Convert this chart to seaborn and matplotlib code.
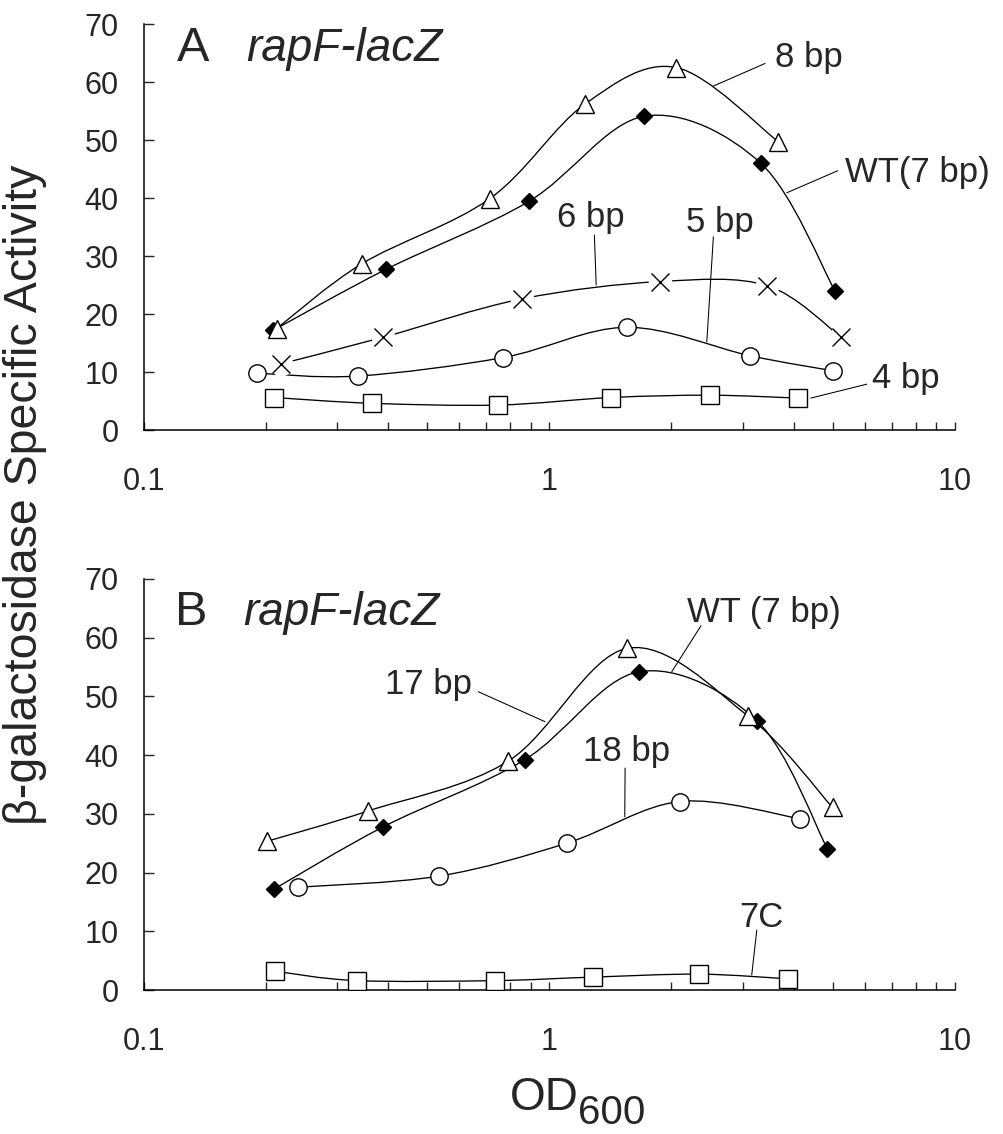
"""
rapF-lacZ beta-galactosidase activity vs OD600 (panels A and B)
"""
import matplotlib
matplotlib.use('Agg')
import matplotlib.pyplot as plt
import seaborn as sns
import numpy as np
import pandas as pd
from matplotlib.path import Path
from matplotlib.patches import PathPatch
from matplotlib.ticker import LogLocator, NullFormatter, FixedLocator, FixedFormatter

sns.set_style('ticks')
plt.rcParams['font.family'] = ['Liberation Sans', 'DejaVu Sans']

# ---- panel A data ----
a_8bp_od = [0.213, 0.346, 0.714, 1.225, 2.054, 3.67]
a_8bp_act = [17.5, 28.7, 39.9, 56.2, 62.5, 49.7]
a_wt_od = [0.209, 0.396, 0.890, 1.716, 3.32, 5.06]
a_wt_act = [17.2, 27.7, 39.4, 54.1, 46.0, 24.0]
a_6bp_od = [0.218, 0.390, 0.855, 1.875, 3.44, 5.24]
a_6bp_act = [11.4, 16.0, 22.6, 25.6, 24.9, 16.0]
a_5bp_od = [0.190, 0.337, 0.771, 1.553, 3.126, 5.01]
a_5bp_act = [9.8, 9.3, 12.5, 17.7, 12.8, 10.2]
a_4bp_od = [0.210, 0.366, 0.747, 1.418, 2.49, 4.10]
a_4bp_act = [5.6, 4.6, 4.3, 5.6, 6.0, 5.5]

# ---- panel B data ----
b_17bp_od = [0.201, 0.358, 0.793, 1.558, 3.096, 4.99]
b_17bp_act = [25.3, 30.5, 39.0, 58.2, 46.6, 31.1]
b_wt_od = [0.210, 0.390, 0.869, 1.665, 3.245, 4.85]
b_wt_act = [17.2, 27.8, 39.2, 54.2, 45.9, 24.0]
b_18bp_od = [0.240, 0.535, 1.104, 2.10, 4.14]
b_18bp_act = [17.5, 19.4, 25.0, 32.1, 29.2]
b_7c_od = [0.211, 0.335, 0.735, 1.284, 2.344, 3.886]
b_7c_act = [3.2, 1.6, 1.6, 2.2, 2.7, 1.9]

x_tick_vals = [0.1, 1, 10]
x_tick_labels = ['0.1', '1', '10']
y_tick_vals = [0, 10, 20, 30, 40, 50, 60, 70]

# marker styles: (marker, markersize, facecolor)
STYLES = {
    'tri': ('^', 12.5, 'white'),
    'dia': ('D', 7.8, 'black'),
    'x': ('x', 12.5, 'black'),
    'circ': ('o', 12.5, 'white'),
    'sq': ('s', 13, 'white'),
}


def smooth_path(xs, ys):
    """Catmull-Rom style bezier through the points (in log-x space)"""
    pts = np.column_stack([np.log10(xs), np.asarray(ys, dtype=float)])
    n = len(pts)
    verts = [pts[0]]
    codes = [Path.MOVETO]
    for i in range(n - 1):
        p0 = pts[max(i - 1, 0)]
        p1 = pts[i]
        p2 = pts[i + 1]
        p3 = pts[min(i + 2, n - 1)]
        verts += [p1 + (p2 - p0) / 6, p2 - (p3 - p1) / 6, p2]
        codes += [Path.CURVE4] * 3
    verts = np.array(verts)
    verts[:, 0] = 10 ** verts[:, 0]
    return Path(verts, codes)


def draw_series(ax, od, act, style):
    ax.add_patch(PathPatch(smooth_path(od, act), facecolor='none',
                           edgecolor='black', lw=0.95, zorder=1))
    marker, ms, fc = STYLES[style]
    df = pd.DataFrame({'od': od, 'act': act})
    if style == 'x':
        # white halo behind the crosses, like the original
        sns.lineplot(data=df, x='od', y='act', ax=ax, linestyle='none',
                     marker='o', markersize=17, color='white',
                     markerfacecolor='white', markeredgecolor='white',
                     markeredgewidth=0, zorder=2)
    sns.lineplot(data=df, x='od', y='act', ax=ax, linestyle='none',
                 marker=marker, markersize=ms, color='black',
                 markerfacecolor=fc, markeredgecolor='black',
                 markeredgewidth=1.0, zorder=3)


def leader(ax, x0, y0, x1, y1):
    ax.plot([x0, x1], [y0, y1], color='black', lw=0.75, zorder=1)


def style_axes(ax):
    ax.set_xscale('log')
    ax.set_xlim(0.1, 10)
    ax.set_ylim(0, 70)
    ax.xaxis.set_major_locator(FixedLocator(x_tick_vals))
    ax.xaxis.set_major_formatter(FixedFormatter(x_tick_labels))
    ax.xaxis.set_minor_locator(LogLocator(base=10, subs=np.arange(2, 10)))
    ax.xaxis.set_minor_formatter(NullFormatter())
    ax.set_yticks(y_tick_vals)
    ax.tick_params(axis='x', which='both', direction='in', length=5.5,
                   width=1.0, pad=27, labelsize=22)
    ax.tick_params(axis='y', which='both', direction='in', length=7,
                   width=1.0, pad=18, labelsize=22)
    for s in ['top', 'right']:
        ax.spines[s].set_visible(False)
    for s in ['left', 'bottom']:
        ax.spines[s].set_linewidth(1.1)
        ax.spines[s].set_color('black')
    ax.set_xlabel('')
    ax.set_ylabel('')
    ax.patch.set_alpha(0)


W, H = 1004, 1134
fig = plt.figure(figsize=(W / 100, H / 100), dpi=100)
axA = fig.add_axes([143.5 / W, 1 - 430 / H, 811.5 / W, 406 / H])
axB = fig.add_axes([143.5 / W, 1 - 990 / H, 811.5 / W, 411 / H])

# ---- panel A ----
draw_series(axA, a_4bp_od, a_4bp_act, 'sq')
draw_series(axA, a_5bp_od, a_5bp_act, 'circ')
draw_series(axA, a_6bp_od, a_6bp_act, 'x')
draw_series(axA, a_wt_od, a_wt_act, 'dia')
draw_series(axA, a_8bp_od, a_8bp_act, 'tri')
style_axes(axA)

axA.text(0.121, 63.6, 'A', fontsize=35)
axA.text(0.1796, 63.6, 'rapF-lacZ', fontsize=33, style='italic')
axA.text(3.60, 62.6, '8 bp', fontsize=25)
leader(axA, 3.404, 63.2, 2.538, 59.3)
axA.text(5.36, 42.8, 'WT(7 bp)', fontsize=25)
leader(axA, 5.14, 44.7, 3.85, 40.9)
axA.text(1.047, 35.05, '6 bp', fontsize=25)
leader(axA, 1.292, 33.6, 1.305, 25.0)
axA.text(2.174, 34.1, '5 bp', fontsize=25)
leader(axA, 2.538, 33.3, 2.445, 15.2)
axA.text(6.23, 7.3, '4 bp', fontsize=25)
leader(axA, 6.06, 7.9, 4.41, 5.5)

# ---- panel B ----
draw_series(axB, b_7c_od, b_7c_act, 'sq')
draw_series(axB, b_18bp_od, b_18bp_act, 'circ')
draw_series(axB, b_wt_od, b_wt_act, 'dia')
draw_series(axB, b_17bp_od, b_17bp_act, 'tri')
style_axes(axB)

axB.text(0.1196, 62.2, 'B', fontsize=35)
axB.text(0.1762, 62.2, 'rapF-lacZ', fontsize=33, style='italic')
axB.text(0.3938, 50.4, '17 bp', fontsize=25)
leader(axB, 0.6687, 50.8, 0.976, 45.7)
axB.text(2.182, 62.7, 'WT (7 bp)', fontsize=25)
leader(axB, 2.366, 62.05, 2.004, 54.2)
axB.text(1.214, 39.0, '18 bp', fontsize=25)
leader(axB, 1.538, 37.8, 1.535, 29.5)
axB.text(2.937, 10.8, '7C', fontsize=25)
leader(axB, 3.247, 10.2, 3.155, 2.55)

# ---- shared axis titles ----
fig.text(37 / W, 1 - 495 / H, '\u03b2-galactosidase Specific Activity',
         rotation=90, rotation_mode='anchor', ha='center', va='baseline',
         fontsize=33.5)
fig.text(510 / W, 1 - 1110 / H, 'OD', fontsize=33, ha='left', va='baseline')
fig.text(578 / W, 1 - 1124 / H, '600', fontsize=29, ha='left', va='baseline')

fig.savefig('out.png', dpi=100)
